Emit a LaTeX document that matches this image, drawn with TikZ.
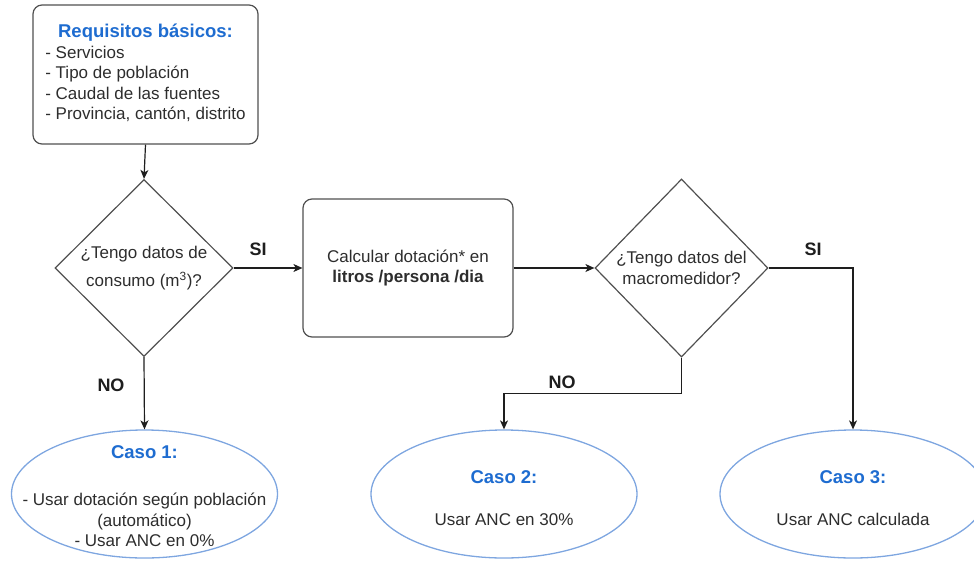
\documentclass[tikz,border=0pt]{standalone}
\usepackage{fontspec}
\setmainfont{Liberation Sans}
\usetikzlibrary{shapes.geometric,arrows.meta}
\definecolor{txt}{RGB}{45,45,45}
\definecolor{ttl}{RGB}{30,108,208}
\definecolor{ell}{RGB}{126,166,224}
\definecolor{edge}{RGB}{80,80,80}
\definecolor{lin}{RGB}{30,30,30}
\tikzset{
  base/.style={font=\fontsize{17}{20.4}\selectfont, text=txt, inner sep=0pt, align=center},
  boxnode/.style={base, draw=edge, line width=1.2pt, rectangle, rounded corners=9pt},
  decision/.style={base, draw=edge, line width=1.2pt, diamond, aspect=1},
  casenode/.style={draw=ell, line width=1.3pt, ellipse, inner sep=0pt, minimum width=266pt, minimum height=128pt},
  casetext/.style={base},
  lbl/.style={font=\fontsize{18}{20}\selectfont\bfseries, text=lin, inner sep=0pt},
  conn/.style={draw=lin, line width=1.2pt, -{Stealth[length=9pt,width=8pt,inset=2.5pt]}},
}
\newcommand{\casetitle}[1]{{\fontsize{18.5}{20}\selectfont\bfseries\color{ttl}#1}}
\begin{document}
\begin{tikzpicture}[x=1pt,y=-1pt]
\useasboundingbox (0,0) rectangle (974,560);
% top box
\node[boxnode, minimum width=225pt, minimum height=139pt] (req) at (145.5,74.5)
  {\begin{tabular}{@{}l@{}}\multicolumn{1}{@{}c@{}}{\casetitle{Requisitos básicos:}}\\[0.6pt]
   - Servicios\\
   - Tipo de población\\
   - Caudal de las fuentes\\
   - Provincia, cantón, distrito\end{tabular}};
% decision 1
\node[decision, minimum width=178pt, minimum height=177pt] (d1) at (144,268)
  {¿Tengo datos de\\[8pt]consumo (m\textsuperscript{3})?};
% box 2
\node[boxnode, minimum width=210pt, minimum height=138pt] (calc) at (408,268)
  {Calcular dotación* en\\{\bfseries litros /persona /dia}};
% decision 2
\node[decision, minimum width=173pt, minimum height=178pt] (d2) at (681.5,268)
  {¿Tengo datos del\\macromedidor?};
% cases
\node[casenode] (c1) at (144.5,494) {};
\node[casetext] (c1t) at ([yshift=-2pt]c1.center)
  {\casetitle{Caso 1:}\\[27pt]- Usar dotación según población\\(automático)\\- Usar ANC en 0\%};
\node[casenode] (c2) at (504,494) {};
\node[casetext] (c2t) at ([yshift=-4pt]c2.center)
  {\casetitle{Caso 2:}\\[22pt]Usar ANC en 30\%};
\node[casenode] (c3) at (853,494) {};
\node[casetext] (c3t) at ([yshift=-4pt]c3.center)
  {\casetitle{Caso 3:}\\[22pt]Usar ANC calculada};
% labels
\node[lbl] (si1) at (258,249) {SI};
\node[lbl] (si2) at (813,249) {SI};
\node[lbl] (no1) at (111,385) {NO};
\node[lbl] (no2) at (562,382) {NO};
% connectors
\draw[conn] (req.south) -- (d1.north);
\draw[conn] (d1.east) -- (calc.west);
\draw[conn] (calc.east) -- (d2.west);
\draw[conn] (d2.east) -| (c3.north);
\draw[conn] (d2.south) -- ++(0,36) -| (c2.north);
\draw[conn] (d1.south) -- (c1.north);
\end{tikzpicture}
\end{document}
